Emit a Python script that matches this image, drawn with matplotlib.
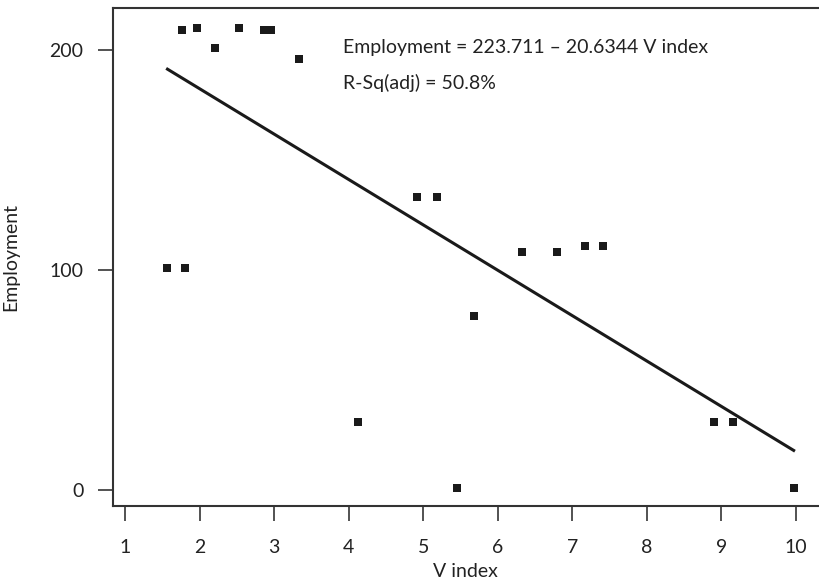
import numpy as np
import matplotlib
matplotlib.use("Agg")
import matplotlib.pyplot as plt

plt.rcParams['font.family'] = ['Lato', 'DejaVu Sans']

# data
v_index = [1.57, 1.81, 1.76, 1.97, 2.21, 2.53, 2.87, 2.96, 3.33, 4.12, 4.92,
           5.18, 5.45, 5.68, 6.32, 6.79, 7.17, 7.41, 8.90, 9.15, 9.97]
employment = [101, 101, 209, 210, 201, 210, 209, 209, 196, 31, 133,
              133, 1, 79, 108, 108, 111, 111, 31, 31, 1]

# fitted line from the chart text
intercept = 223.711
slope = -20.6344
r_sq_adj = 50.8

x = np.array(v_index)
y = np.array(employment)

fig = plt.figure(figsize=(8.19, 5.85), dpi=100)
ax = fig.add_axes([0.1376, 0.135, 0.8624, 0.8505])

ax.plot(x, y, 's', color='#1a1a1a', markersize=5.5, markeredgewidth=0)
xl = np.array([x.min(), x.max()])
ax.plot(xl, intercept + slope * xl, '-', color='#1a1a1a', linewidth=2.2)

ax.text(3.93, 201, 'Employment = %.3f \u2013 %.4f V index' % (intercept, -slope),
        fontsize=14, color='#222222', va='center', ha='left')
ax.text(3.93, 185, 'R-Sq(adj) = %.1f%%' % r_sq_adj,
        fontsize=14, color='#222222', va='center', ha='left')

ax.set_xlim(0.835, 10.31)
ax.set_ylim(-7.3, 218.9)
ax.set_xticks(range(1, 11))
ax.set_yticks([0, 100, 200])

for s in ['left', 'bottom', 'top']:
    ax.spines[s].set_linewidth(1.5)
    ax.spines[s].set_color('#333333')
ax.spines['right'].set_visible(False)

ax.tick_params(direction='out', length=11, width=1.3, color='#444444',
               labelsize=14, labelcolor='#222222')
ax.tick_params(axis='x', pad=13)
ax.tick_params(axis='y', pad=10)

ax.set_xlabel('V index', fontsize=14, color='#222222', labelpad=5)
ax.set_ylabel('Employment', fontsize=14, color='#222222', labelpad=22)

fig.savefig('out.png', dpi=100)
